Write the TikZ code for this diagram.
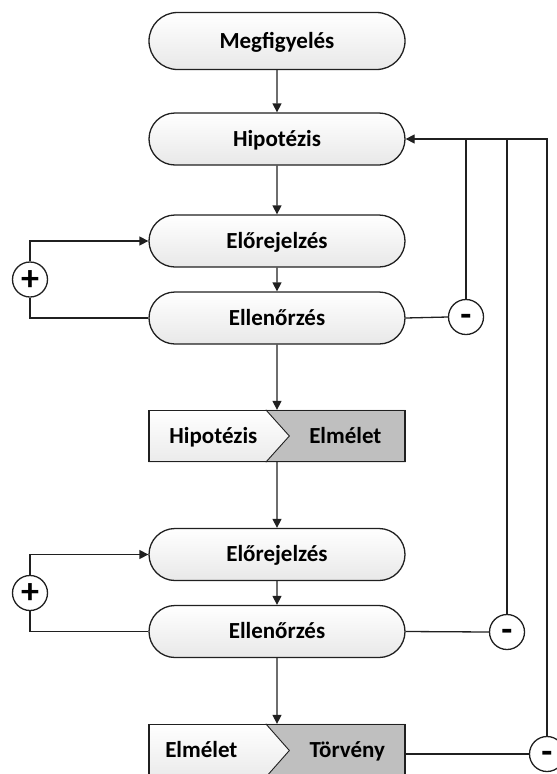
\documentclass[tikz,border=0pt]{standalone}
\usepackage{fontspec}
\setmainfont{Carlito}
\usetikzlibrary{shapes.misc,arrows.meta,backgrounds,calc}
\definecolor{chev}{HTML}{BFBFBF}
\definecolor{edge}{HTML}{202020}
\tikzset{
  lbl/.style={font=\bfseries\fontsize{23}{26}\selectfont, text=black, inner sep=0pt, text height=16.5pt, text depth=1.7pt},
  rbox/.style={rounded rectangle, draw=edge, line width=1.3pt, top color=white, bottom color=black!9,
    minimum width=256pt, minimum height=52pt, inner sep=0pt, lbl},
  sbox/.style={rectangle, draw=edge, line width=1.3pt, minimum width=256pt, minimum height=51pt, inner sep=0pt},
  sign/.style={circle, draw=edge, line width=1.3pt, minimum size=35pt, inner sep=0pt, fill=white,
    font=\bfseries\fontsize{36}{36}\selectfont, text depth=0pt},
  plus/.style={sign, text height=21pt},
  minus/.style={sign, text height=18.5pt},
  arr/.style={-{Triangle[length=9pt,width=9pt]}, line width=1.3pt, draw=edge},
  ln/.style={line width=1.3pt, draw=edge},
  divl/.style={line width=0.9pt, draw=edge}
}
\begin{document}
\begin{tikzpicture}[x=1pt,y=-1pt]
\useasboundingbox (0,0) rectangle (557,774);
% main column
\node[rbox, minimum height=57pt] (meg) at (277,41) {Megfigyelés};
\node[rbox] (hip) at (277,139) {Hipotézis};
\node[rbox] (ele1) at (277,241) {Előrejelzés};
\node[rbox] (ell1) at (277,318) {Ellenőrzés};
\node[sbox] (he) at (277,436) {};
\node[rbox] (ele2) at (277,554.5) {Előrejelzés};
\node[rbox] (ell2) at (277,631.5) {Ellenőrzés};
\node[sbox, minimum height=52pt] (et) at (277,750.5) {};
% split box fills
\begin{pgfonlayer}{background}
\shade[top color=white, bottom color=black!8] (he.north west) rectangle (he.south east);
\fill[chev] ([xshift=117.5pt]he.north west) -- ([xshift=141pt]he.west) -- ([xshift=117.5pt]he.south west) -- (he.south east) -- (he.north east) -- cycle;
\draw[divl] ([xshift=117.5pt]he.north west) -- ([xshift=141pt]he.west) -- ([xshift=117.5pt]he.south west);
\shade[top color=white, bottom color=black!8] (et.north west) rectangle (et.south east);
\fill[chev] ([xshift=117.5pt]et.north west) -- ([xshift=141pt]et.west) -- ([xshift=117.5pt]et.south west) -- (et.south east) -- (et.north east) -- cycle;
\draw[divl] ([xshift=117.5pt]et.north west) -- ([xshift=141pt]et.west) -- ([xshift=117.5pt]et.south west);
\end{pgfonlayer}
\node[lbl] (hel) at ([xshift=65pt]he.west) {Hipotézis};
\node[lbl] (her) at ([xshift=197pt]he.west) {Elmélet};
\node[lbl] (etl) at ([xshift=53pt]et.west) {Elmélet};
\node[lbl] (etr) at ([xshift=199pt]et.west) {Törvény};
% signs
\node[plus] (p1) at (30,279.5) {+};
\node[plus] (p2) at (30,593) {+};
\node[minus] (m1) at (466,317) {-};
\node[minus] (m2) at (507,632) {-};
\node[minus] (m3) at (547,754) {-};
% main arrows
\draw[arr] (meg) -- (hip);
\draw[arr] (hip) -- (ele1);
\draw[arr] (ele1) -- (ell1);
\draw[arr] (ell1) -- (he);
\draw[arr] (he) -- (ele2);
\draw[arr] (ele2) -- (ell2);
\draw[arr] (ell2) -- (et);
% positive loops
\draw[ln] (ell1.west) -| (p1.south);
\draw[arr] (p1.north) |- (ele1.west);
\draw[ln] (ell2.west) -| (p2.south);
\draw[arr] (p2.north) |- (ele2.west);
% negative feedback
\draw[ln] (ell1.east) -- (m1.west);
\draw[ln] (ell2.east) -- (m2.west);
\draw[ln] (m3.west) -- (m3.west -| et.east);
\draw[arr] (m3.north) |- (hip.east);
\draw[ln] (m1.north) -- (m1.north |- hip.east);
\draw[ln] (m2.north) -- (m2.north |- hip.east);
\end{tikzpicture}
\end{document}
